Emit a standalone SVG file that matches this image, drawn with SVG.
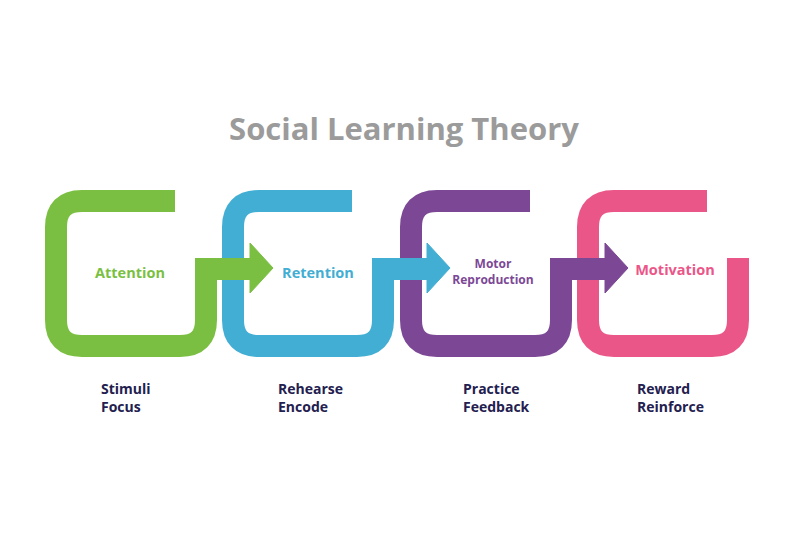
<svg xmlns="http://www.w3.org/2000/svg" width="796" height="550" viewBox="0 0 796 550">
<style>
.s{fill:none;stroke-width:22;stroke-linejoin:miter}
.t{font-family:"Open Sans",sans-serif;font-weight:bold;font-size:14.5px;text-anchor:middle}
.m{font-family:"Open Sans",sans-serif;font-weight:bold;font-size:12px;text-anchor:middle;fill:#7c4896}
.b{font-family:"Open Sans",sans-serif;font-weight:bold;font-size:14px;fill:#23204f}
</style>
<defs>
<g id="loop"><path class="s" d="M175,201 H82 Q56,201 56,227 V320 Q56,346 82,346 H180 Q206,346 206,320 V269 H252"/><polygon points="250,243 273,268 250,293"/></g>
</defs>
<rect width="796" height="550" fill="#fff"/>
<text x="404" y="140" font-family="'Open Sans',sans-serif" font-weight="bold" font-size="31" fill="#9b9b9b" text-anchor="middle">Social Learning Theory</text>
<g id="motivation"><path class="s" stroke="#eb5689" d="M707,201 H614 Q588,201 588,227 V320 Q588,346 614,346 H712 Q738,346 738,320 V258"/>
<text class="t" x="675" y="275" fill="#eb5689">Motivation</text></g>
<g id="motor"><use href="#loop" x="355" stroke="#7c4896" fill="#7c4896"/>
<text class="m" x="493" y="268">Motor</text><text class="m" x="493" y="284">Reproduction</text></g>
<g id="retention"><use href="#loop" x="177" stroke="#43aed3" fill="#43aed3"/>
<text class="t" x="318" y="278" fill="#43aed3">Retention</text></g>
<g id="attention"><use href="#loop" stroke="#7bbf42" fill="#7bbf42"/>
<text class="t" x="130" y="278" fill="#7bbf42">Attention</text></g>
<g id="notes">
<text class="b" x="101" y="394">Stimuli</text><text class="b" x="101" y="412">Focus</text>
<text class="b" x="278" y="394">Rehearse</text><text class="b" x="278" y="412">Encode</text>
<text class="b" x="463" y="394">Practice</text><text class="b" x="463" y="412">Feedback</text>
<text class="b" x="637" y="394">Reward</text><text class="b" x="637" y="412">Reinforce</text>
</g>
</svg>
